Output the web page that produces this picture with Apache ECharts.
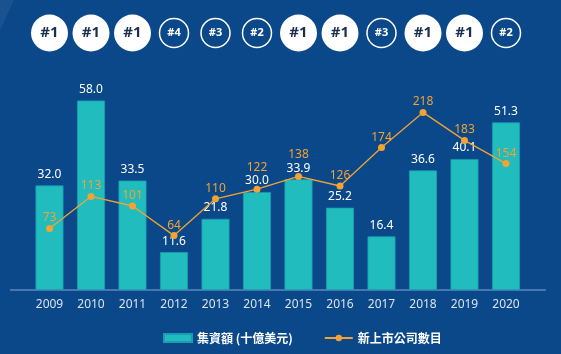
<!DOCTYPE html>
<html>
<head>
<meta charset="utf-8">
<script src="https://cdn.jsdelivr.net/npm/echarts@6/dist/echarts.min.js"></script>
<style>
html,body{margin:0;padding:0;background:#0b4889;}
#c{width:561px;height:354px;}
</style>
</head>
<body>
<div id="c"></div>
<script>
const years = ['2009','2010','2011','2012','2013','2014','2015','2016','2017','2018','2019','2020'];
const fundsRaised = [32.0, 58.0, 33.5, 11.6, 21.8, 30.0, 33.9, 25.2, 16.4, 36.6, 40.1, 51.3];
const newListings = [73, 113, 101, 64, 110, 122, 138, 126, 174, 218, 183, 154];
const ranks = ['#1','#1','#1','#4','#3','#2','#1','#1','#3','#1','#1','#2'];
const barName = '集資額 (十億美元)';
const lineName = '新上市公司數目';

const FONT = '"Noto Sans", "Noto Sans CJK TC", sans-serif';
const BG = '#0b4889';
const TEAL = '#20bcbe';
const ORANGE = '#f2a334';

const rankData = ranks.map(r => {
  const first = r === '#1';
  return {
    value: 0.5,
    symbolSize: first ? 37 : 29,
    itemStyle: first
      ? { color: '#ffffff', borderWidth: 0, opacity: 1 }
      : { color: 'rgba(0,0,0,0)', borderColor: '#ffffff', borderWidth: 1.5, opacity: 1 },
    label: first
      ? { show: true, formatter: r, color: '#1b2f50', fontSize: 15, fontWeight: 'bold', fontFamily: FONT }
      : { show: true, formatter: r, color: '#ffffff', fontSize: 11, fontWeight: 'bold', fontFamily: FONT }
  };
});

const chart = echarts.init(document.getElementById('c'), null, { renderer: 'canvas' });
const baseOption = {
  backgroundColor: BG,
  animation: false,
  textStyle: { fontFamily: FONT },
  graphic: [
    { type: 'polygon', silent: true, z: -1,
      shape: { points: [[0,0],[14,0],[0,30]] },
      style: { fill: 'rgba(255,255,255,0.06)' } },
    { type: 'line', silent: true,
      shape: { x1: 10, y1: 290, x2: 546, y2: 290 },
      style: { stroke: '#5b87bf', lineWidth: 1.5 } }
  ],
  legend: {
    left: 158, top: 327,
    itemWidth: 28, itemHeight: 8, itemGap: 31,
    textStyle: { color: '#ffffff', fontSize: 12, fontWeight: 'bold', fontFamily: '"Noto Sans CJK TC", sans-serif' },
    data: [
      { name: barName, icon: 'rect' },
      { name: lineName }
    ]
  },
  grid: [
    { left: 28.75, right: 34.25, top: 94, bottom: 64 },
    { left: 28.75, right: 34.25, top: 0, height: 66 }
  ],
  xAxis: [
    { type: 'category', data: years, gridIndex: 0,
      axisLine: { show: false }, axisTick: { show: false },
      axisLabel: { color: '#d9e3ef', fontSize: 12, margin: 9, fontFamily: FONT } },
    { type: 'category', data: years, gridIndex: 1, show: false }
  ],
  yAxis: [
    { type: 'value', gridIndex: 0, min: 0, max: 60, show: false, splitLine: { show: false } },
    { type: 'value', gridIndex: 0, min: -4, max: 241, show: false, splitLine: { show: false } },
    { type: 'value', gridIndex: 1, min: 0, max: 1, show: false, splitLine: { show: false } }
  ],
  series: [
    { name: barName, type: 'bar', xAxisIndex: 0, yAxisIndex: 0,
      data: fundsRaised, barWidth: 28,
      itemStyle: { color: TEAL, borderColor: '#1a9db0', borderWidth: 0.8 },
      label: { show: true, position: 'top', distance: 5, color: '#ffffff', fontSize: 12,
        fontFamily: FONT, formatter: p => p.value.toFixed(1) } },
    { name: lineName, type: 'line', xAxisIndex: 0, yAxisIndex: 1,
      data: newListings, symbol: 'circle', symbolSize: 7,
      lineStyle: { color: ORANGE, width: 1.3 },
      itemStyle: { color: ORANGE },
      label: { show: true, position: 'top', distance: 1, color: ORANGE, fontSize: 12, fontFamily: FONT },
      z: 5 },
    { name: 'rank', type: 'scatter', xAxisIndex: 1, yAxisIndex: 2,
      data: rankData, symbol: 'circle',
      itemStyle: { opacity: 1 },
      label: { show: true, position: 'inside' } }
  ]
};
chart.setOption(baseOption);

// Raise line labels that would collide with the bar value labels
const lineItems = newListings.map((v, i) => {
  const barTop = chart.convertToPixel({ xAxisIndex: 0, yAxisIndex: 0 }, [i, fundsRaised[i]])[1];
  const pt = chart.convertToPixel({ xAxisIndex: 0, yAxisIndex: 1 }, [i, v])[1];
  const lineLabelC = pt - 12;
  const barLabelC = barTop - 11;
  const collide = Math.abs(lineLabelC - barLabelC) < 13;
  return collide ? { value: v, label: { distance: 12.5 } } : v;
});
chart.setOption({ series: [{}, { data: lineItems }, {}] });
</script>
</body>
</html>
